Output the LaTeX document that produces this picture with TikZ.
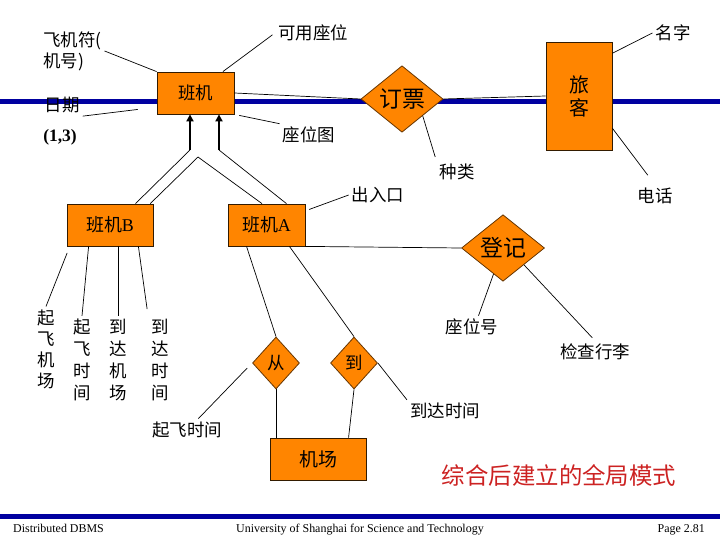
\documentclass[tikz,border=0pt]{standalone}
\usepackage{fontspec}
\setmainfont{Liberation Serif}
\newfontfamily\cjk{Noto Sans CJK SC}
\usepackage{xcolor}
\usetikzlibrary{arrows.meta,calc,
                shapes.geometric,positioning}
\definecolor{BoxOrange}{RGB}{255,133,0}
\definecolor{BarBlue}{RGB}{0,0,160}
\definecolor{TitleRed}{RGB}{204,34,34}

\begin{document}
\begin{tikzpicture}[x = 1bp, y = -1bp]
  \tikzset{entity/.style = {shape = rectangle, fill = BoxOrange, draw = black!80!BoxOrange, line width = 0.8bp, inner sep = 0pt, font = \cjk\fontsize{17.5}{21}\selectfont}}
  \tikzset{relation/.style = {shape = diamond, fill = BoxOrange, draw = black!60!BoxOrange, line width = 0.8bp, inner sep = 0pt, font = \cjk\fontsize{17.5}{21}\selectfont}}
  \tikzset{attr/.style = {inner sep = 3bp, font = \cjk\fontsize{17.5}{21}\selectfont}}
  \tikzset{column/.style = {attr, align = center, font = \cjk\fontsize{17.5}{22}\selectfont}}
  \tikzset{footer/.style = {inner sep = 0pt, font = \fontsize{12}{14}\selectfont}}
  \tikzset{link/.style = {draw = black, line width = 0.7bp}}
  \tikzset{isa/.style = {draw = black, line width = 2.6bp, -{Triangle[width = 7bp, length = 7bp]}}}
  \tikzset{bar/.style = {draw = BarBlue, line width = 5bp}}

  \useasboundingbox (0,0) rectangle (720,540);
  \draw[bar] (0,102) -- (720,102);
  \draw[bar] (0,516) -- (720,516);

  \node[entity, minimum width = 77bp, minimum height = 42bp] (Flight) at (195.5,93) {班机};
  \node[relation, minimum width = 82bp, minimum height = 64bp, font = \cjk\fontsize{23}{26}\selectfont] (Book) at (402,99) {订票};
  \node[entity, minimum width = 66bp, minimum height = 108bp, align = center, font = \cjk\fontsize{20}{23}\selectfont] (Passenger) at (579,96) {旅\\客};
  \node[entity, minimum width = 86bp, minimum height = 42bp, font = \fontsize{18}{21}\selectfont] (FlightB) at (110,225) {{\cjk 班机}B};
  \node[entity, minimum width = 77bp, minimum height = 42bp, font = \fontsize{18}{21}\selectfont] (FlightA) at (266.5,225) {{\cjk 班机}A};
  \node[relation, minimum width = 83bp, minimum height = 65bp, font = \cjk\fontsize{23}{26}\selectfont] (Register) at (503,248) {登记};
  \node[relation, minimum width = 47bp, minimum height = 52bp] (From) at (276,363) {从};
  \node[relation, minimum width = 47bp, minimum height = 52bp] (To) at (354,363) {到};
  \node[entity, minimum width = 96bp, minimum height = 42bp, font = \cjk\fontsize{19}{22}\selectfont] (Airport) at (318,459) {机场};

  \node[attr, anchor = west, align = left] (PlaneNo) at (40,51) {飞机符(\\机号)};
  \node[attr] (SeatAvail) at (313,33) {可用座位};
  \node[attr] (Name) at (673,33) {名字};
  \node[attr] (Date) at (62,105) {日期};
  \node[attr, font = \bfseries\fontsize{17.5}{21}\selectfont] (Range) at (60,137) {(1,3)};
  \node[attr] (SeatMap) at (309,135) {座位图};
  \node[attr] (Kind) at (457,172) {种类};
  \node[attr] (Gate) at (378,195) {出入口};
  \node[attr] (Phone) at (655,196) {电话};
  \node[attr] (SeatNo) at (472,327) {座位号};
  \node[attr] (Luggage) at (595,352) {检查行李};
  \node[attr] (ArrivalTime) at (445,411) {到达时间};
  \node[attr] (TakeoffTime) at (187,430) {起飞时间};
  \node[column, font = \cjk\fontsize{17.5}{21}\selectfont] (DepAirport) at (46,349) {起\\飞\\机\\场};
  \node[column] (DepTime) at (82,360) {起\\飞\\时\\间};
  \node[column] (ArrAirport) at (118,360) {到\\达\\机\\场};
  \node[column] (ArrTime) at (160,360) {到\\达\\时\\间};
  \node[font = \cjk\fontsize{23.5}{26}\selectfont, text = TitleRed] (Caption) at (559,475) {综合后建立的全局模式};

  \node[footer, anchor = base west] (Course) at (13,532) {Distributed DBMS};
  \node[footer, anchor = base west] (School) at (236,532) {University of Shanghai for Science and Technology};
  \node[footer, anchor = base east] (PageNo) at (705,532) {Page 2.81};

  \coordinate (ArrowL) at (190,150);
  \coordinate (ArrowR) at (219,150);
  \coordinate (Apex) at (198,157);
  \draw[isa] (ArrowL) -- (ArrowL |- Flight.south);
  \draw[isa] (ArrowR) -- (ArrowR |- Flight.south);
  \draw[link] (ArrowL) -- (FlightB.40);
  \draw[link] (FlightB.28) -- (Apex) -- (FlightA.102);
  \draw[link] (ArrowR) -- (FlightA.47);

  \draw[link] (Flight.north west) -- (PlaneNo.east);
  \draw[link, shorten >= 3bp] (Flight.38) -- (SeatAvail.west);
  \draw[link, shorten >= 19bp] (Date.south east) -- (Flight.200);
  \draw[link, shorten <= 5bp] (Flight.south east) -- (SeatMap.north west);
  \draw[link] (Flight.east) -- (Book.west);
  \draw[link] (Book.east) -- (Passenger.west);
  \draw[link, shorten >= 4bp] (Book.south east) -- (Kind.north west);
  \draw[link] (Passenger.52) -- (Name.west);
  \draw[link, shorten >= 12bp] (Passenger.-44) -- (Phone.north);
  \draw[link, shorten >= 4bp] (Gate.west) -- (FlightA.20);

  \draw[link] (FlightA.south east) -- (Register.west);
  \draw[link] (FlightA.227) -- (From.north);
  \draw[link] (FlightA.-43) -- (To.north);
  \draw[link] (From.south) -- (From.south |- Airport.north);
  \draw[link] (To.south) -- (Airport.35);
  \draw[link, shorten <= 7bp] (From.west) -- (TakeoffTime.45);
  \draw[link] (To.east) -- (ArrivalTime.north west);
  \draw[link] (Register.250) -- (SeatNo.60);
  \draw[link, shorten >= 4bp] (Register.south east) -- (Luggage.north);

  \draw[link, shorten <= 7bp] (FlightB.208) -- (DepAirport.north);
  \draw[link] (FlightB.225) -- (DepTime.north);
  \draw[link] (FlightB.south -| ArrAirport.north) -- (ArrAirport.north);
  \draw[link, shorten >= 7bp] (FlightB.-37) -- (ArrTime.north west);
\end{tikzpicture}
\end{document}
